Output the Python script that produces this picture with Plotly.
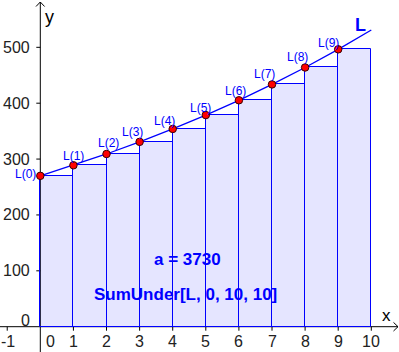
import plotly.graph_objects as go

# ---------------- data ----------------
n_vals = [0, 1, 2, 3, 4, 5, 6, 7, 8, 9, 10]
L_vals = [270.0, 288.9, 309.1, 330.8, 353.9, 378.7, 405.2, 433.6, 463.9, 496.4, 531.1]
point_labels = ["L(0)", "L(1)", "L(2)", "L(3)", "L(4)", "L(5)", "L(6)", "L(7)", "L(8)", "L(9)"]
x_ticks = [-1, 0, 1, 2, 3, 4, 5, 6, 7, 8, 9, 10]
x_tick_labels = ["-1", "0", "1", "2", "3", "4", "5", "6", "7", "8", "9", "10"]
y_ticks = [0, 100, 200, 300, 400, 500]
y_tick_labels = ["0", "100", "200", "300", "400", "500"]
sum_label = "a = 3730"
cmd_label = "SumUnder[L, 0, 10, 10]"
curve_name = "L"

# ---------------- styling ----------------
W, H = 399, 352
X_RANGE = [-1.218, 10.837]
Y_RANGE = [-45.3, 584.7]
FONT = "Liberation Sans, Arial, sans-serif"
BLUE = "#0000ff"
# pixel offsets (dx, dy up) of each point label
label_offsets = [(-15.3, 1.8), (0.3, 9.3), (2, 10.5), (-7.6, 9.8), (-8.2, 7.9),
                 (-5.5, 7.4), (-3.4, 9.0), (-7.2, 10.1), (-7.9, 10.3), (-9.4, 6.8)]


def px(xp):
    return xp / W


def py(yp):
    return 1 - yp / H


fig = go.Figure()

# rectangles (lower sum)
fig.add_trace(go.Bar(
    x=n_vals[:-1], y=L_vals[:-1], offset=0, width=1,
    marker=dict(color="rgba(0,0,255,0.1)", line=dict(color=BLUE, width=1)),
    hoverinfo="skip", showlegend=False,
))

# function curve L
fig.add_trace(go.Scatter(
    x=n_vals, y=L_vals, mode="lines",
    line=dict(color=BLUE, width=1.3), hoverinfo="skip", showlegend=False,
))

# points L(0)..L(9)
fig.add_trace(go.Scatter(
    x=n_vals[:-1], y=L_vals[:-1], mode="markers",
    marker=dict(color="#ff0000", size=7.5, line=dict(color="#3a0000", width=1)),
    hoverinfo="skip", showlegend=False,
))

shapes = []
# axes
shapes.append(dict(type="line", xref="paper", yref="y", x0=0, x1=px(398), y0=0, y1=0,
                   line=dict(color="black", width=1), layer="below"))
shapes.append(dict(type="line", xref="x", yref="paper", x0=0, x1=0, y0=0, y1=py(2),
                   line=dict(color="black", width=1), layer="below"))
# arrow heads
shapes.append(dict(type="path", xref="paper", yref="paper",
                   path=f"M {px(36)} {py(6.5)} L {px(40.3)} {py(2)} L {px(44.6)} {py(6.5)}",
                   line=dict(color="black", width=1)))
shapes.append(dict(type="path", xref="paper", yref="paper",
                   path=f"M {px(393.5)} {py(322.4)} L {px(398)} {py(326.7)} L {px(393.5)} {py(331)}",
                   line=dict(color="black", width=1)))
# ticks
for t in x_ticks:
    if t == 0:
        continue
    shapes.append(dict(type="line", xref="x", yref="y", x0=t, x1=t,
                       ysizemode="pixel", yanchor=0, y0=-4, y1=0,
                       line=dict(color="black", width=1), layer="below"))
for t in y_ticks:
    if t == 0:
        continue
    shapes.append(dict(type="line", xref="x", yref="y", y0=t, y1=t,
                       xsizemode="pixel", xanchor=0, x0=-4, x1=0,
                       line=dict(color="black", width=1), layer="below"))

annotations = []
# tick labels
for t, lab in zip(x_ticks, x_tick_labels):
    annotations.append(dict(x=t, y=0, text=lab, showarrow=False, xanchor="center", yanchor="middle",
                            xshift=(10 if t == 0 else (0.5 if t < 0 else 0)), yshift=-14.5,
                            font=dict(family=FONT, size=16, color="#222")))
for t, lab in zip(y_ticks, y_tick_labels):
    annotations.append(dict(x=0, y=t, text=lab, showarrow=False, xanchor="right", yanchor="middle",
                            xshift=-8, yshift=(6.5 if t == 0 else 0),
                            font=dict(family=FONT, size=16, color="#222")))
# axis names
annotations.append(dict(x=0, y=Y_RANGE[1], text="y", showarrow=False, xanchor="center", yanchor="middle",
                        xshift=9, yshift=-17, font=dict(family=FONT, size=18, color="black")))
annotations.append(dict(x=X_RANGE[1], y=0, text="x", showarrow=False, xanchor="center", yanchor="middle",
                        xshift=-13, yshift=11, font=dict(family=FONT, size=17, color="black")))
# point labels
for i, lab in enumerate(point_labels):
    dx, dy = label_offsets[i]
    annotations.append(dict(x=n_vals[i], y=L_vals[i], text=lab, showarrow=False,
                            xanchor="center", yanchor="middle", xshift=dx, yshift=dy,
                            font=dict(family=FONT, size=12, color=BLUE)))
# curve name
annotations.append(dict(x=n_vals[-1], y=L_vals[-1], text="<b>" + curve_name + "</b>", showarrow=False,
                        xanchor="center", yanchor="middle", xshift=-10.5, yshift=5,
                        font=dict(family=FONT, size=18, color=BLUE)))
# texts
annotations.append(dict(x=4.46, y=121, text="<b>" + sum_label + "</b>", showarrow=False,
                        xanchor="center", yanchor="middle",
                        font=dict(family=FONT, size=17, color=BLUE)))
annotations.append(dict(x=4.39, y=58, text="<b>" + cmd_label + "</b>", showarrow=False,
                        xanchor="center", yanchor="middle",
                        font=dict(family=FONT, size=17, color=BLUE)))

fig.update_layout(
    width=W, height=H, margin=dict(l=0, r=0, t=0, b=0, pad=0),
    paper_bgcolor="white", plot_bgcolor="white",
    xaxis=dict(range=X_RANGE, visible=False, fixedrange=True),
    yaxis=dict(range=Y_RANGE, visible=False, fixedrange=True),
    shapes=shapes, annotations=annotations, showlegend=False, bargap=0,
)

fig.write_html("out.html", config={"displayModeBar": False})
